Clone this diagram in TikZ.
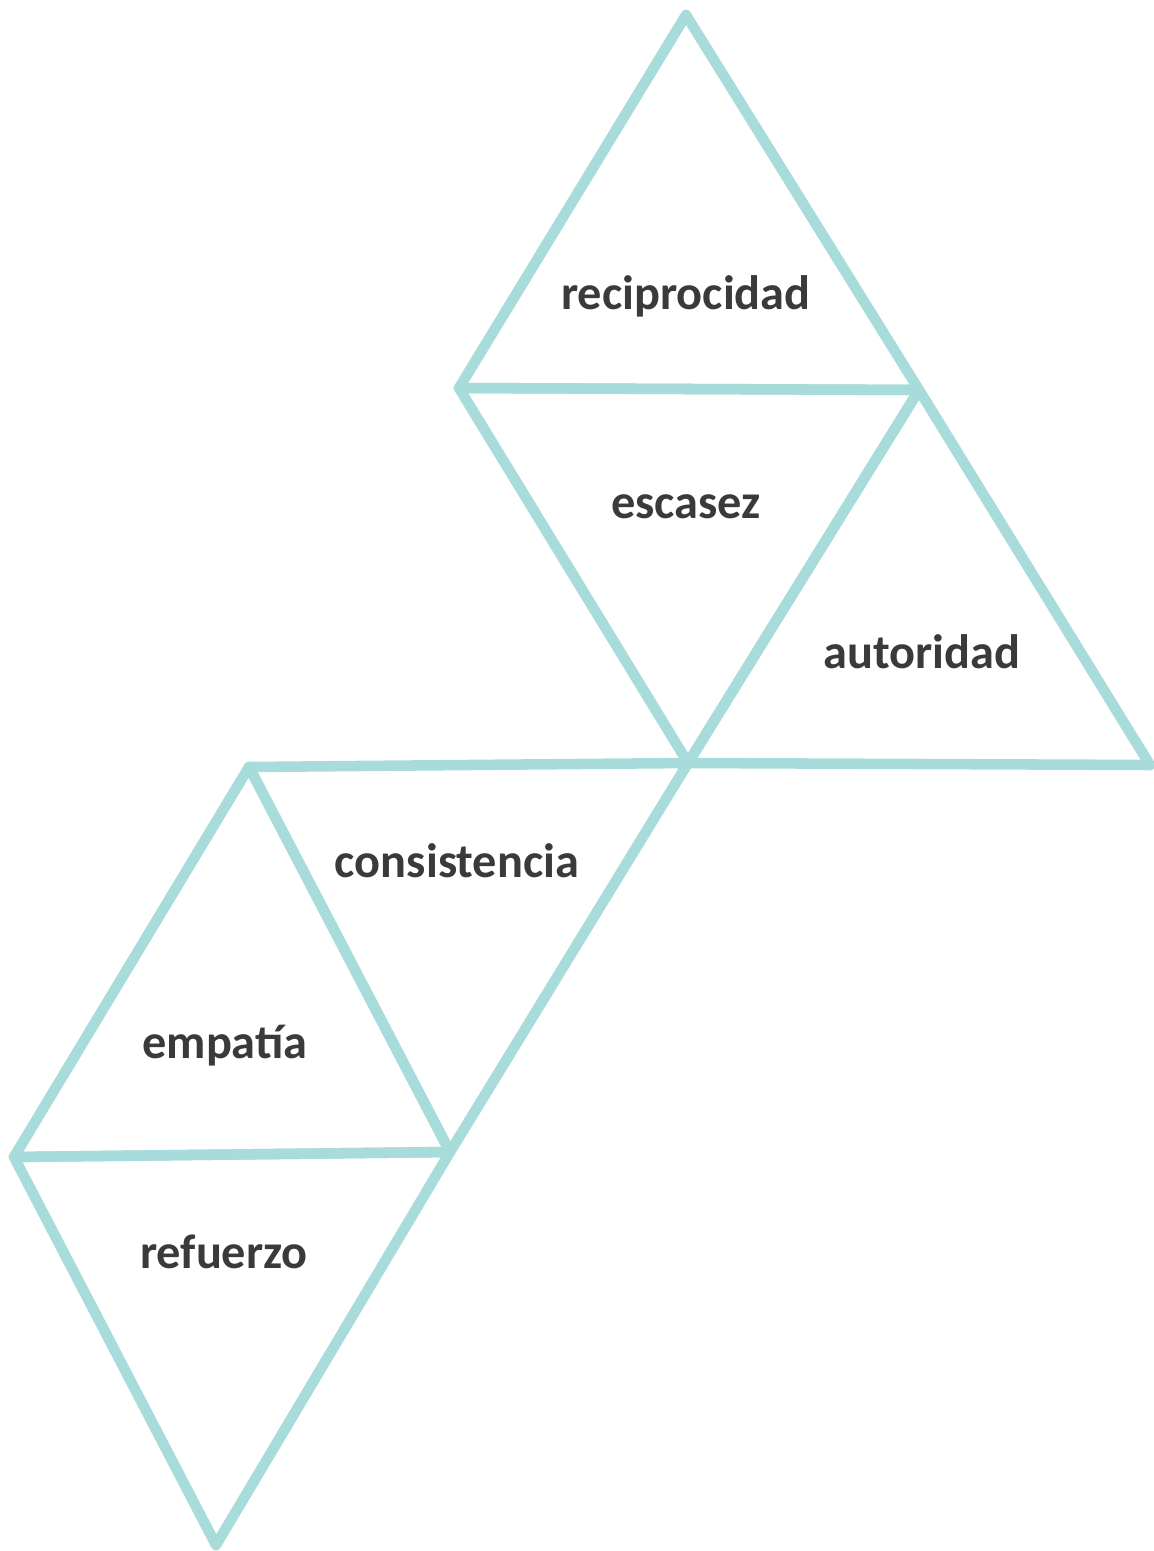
\documentclass[tikz,border=0pt]{standalone}
\usepackage{fontspec}
\setmainfont{Carlito}
\usepackage{tikz}

\definecolor{tuerkis}{HTML}{A8DCDA}
\definecolor{schrift}{HTML}{383A3C}

\tikzset{
	dreieck/.style={draw=tuerkis, line width=6pt, line join=round},
	beschriftung/.style={anchor=base, text=schrift, font=\fontsize{27.5}{32}\selectfont\bfseries}
}

\begin{document}
\begin{tikzpicture}[x=0.02cm,y=-0.02cm]
	% Rahmen festlegen
	\useasboundingbox (0,0) rectangle (1153,1551);
	% Eckpunkte
	\coordinate (a) at (686,15);
	\coordinate (b) at (459,388);
	\coordinate (c) at (919,390);
	\coordinate (d) at (688,763);
	\coordinate (e) at (1150,765);
	\coordinate (f) at (249,767);
	\coordinate (g) at (450,1152);
	\coordinate (h) at (14,1157);
	\coordinate (i) at (216,1545);
	% Dreiecke zeichnen
	\draw[dreieck] (a) -- (b) -- (c) -- cycle;
	\draw[dreieck] (b) -- (c) -- (d) -- cycle;
	\draw[dreieck] (c) -- (d) -- (e) -- cycle;
	\draw[dreieck] (f) -- (d) -- (g) -- cycle;
	\draw[dreieck] (f) -- (h) -- (g) -- cycle;
	\draw[dreieck] (h) -- (g) -- (i) -- cycle;
	% Dreiecke beschriften
	\node[beschriftung] (reci) at (686,309) {reciprocidad};
	\node[beschriftung] (esca) at (686,518) {escasez};
	\node[beschriftung] (auto) at (922,668) {autoridad};
	\node[beschriftung] (cons) at (457,877) {consistencia};
	\node[beschriftung] (empa) at (225,1058) {empatía};
	\node[beschriftung] (refu) at (224,1268) {refuerzo};
\end{tikzpicture}
\end{document}
